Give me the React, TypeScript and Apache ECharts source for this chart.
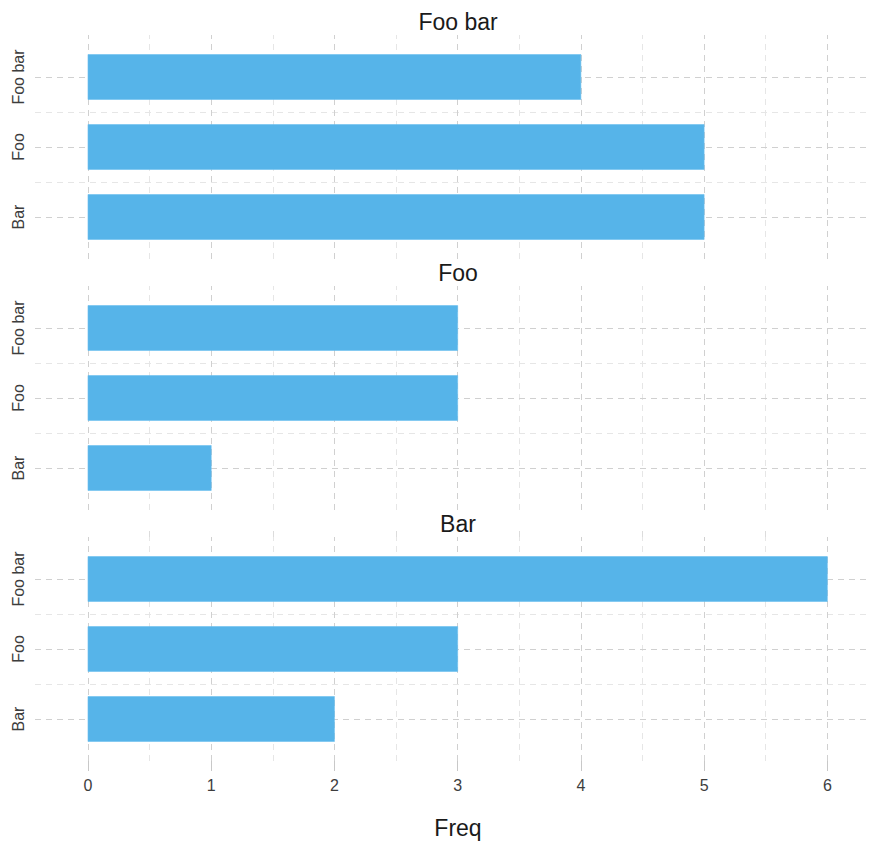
import React, { useEffect, useRef } from "react";
import * as echarts from "echarts";

// Data
const categories = ["Bar", "Foo", "Foo bar"]; // bottom -> top
const panelTitles = ["Foo bar", "Foo", "Bar"];
const fooBarFreq = [5, 5, 4];
const fooFreq = [1, 3, 3];
const barFreq = [2, 3, 6];
const panelValues = [fooBarFreq, fooFreq, barFreq];
const xMajorTicks = [0, 1, 2, 3, 4, 5, 6];
const xMinorTicks = [0.5, 1.5, 2.5, 3.5, 4.5, 5.5];
const yMajorTicks = [1, 2, 3];
const yMinorTicks = [1.5, 2.5];

const FONT = "Liberation Sans, Arial, Helvetica, sans-serif";
const BAR_COLOR = "#56B4E9";
const MAJOR = "#d0d0d0";
const MINOR = "#e6e6e6";
const DASH = [6, 5];
const BAR_WIDTH = 45 / 70;

const W = 871;
const H = 846;
const GRID_LEFT = 35;
const GRID_RIGHT = 3;
const GRID_H = 224;
const GRID_TOPS = [35, 286, 537];
const TITLE_Y = [22, 273, 524];
const X_MIN = -0.43;
const X_MAX = 6.33;

export default function App() {
  const ref = useRef<HTMLDivElement>(null);

  useEffect(() => {
    document.body.style.margin = "0";
    if (!ref.current) return;
    const chart = echarts.init(ref.current, null, { renderer: "svg" });

    const grids = GRID_TOPS.map((top) => ({
      left: GRID_LEFT,
      right: GRID_RIGHT,
      top,
      height: GRID_H,
      containLabel: false,
    }));

    const xAxes: any[] = GRID_TOPS.map((_, i) => ({
      type: "value",
      gridIndex: i,
      min: X_MIN,
      max: X_MAX,
      axisLine: { show: false },
      splitLine: { show: false },
      axisTick:
        i === 2
          ? {
              show: true,
              customValues: xMajorTicks,
              length: 10,
              lineStyle: { color: "#c8c8c8", width: 1 },
            }
          : { show: false },
      axisLabel:
        i === 2
          ? {
              show: true,
              customValues: xMajorTicks,
              margin: 16,
              fontSize: 16,
              color: "#3d3d3d",
              fontFamily: FONT,
            }
          : { show: false },
    }));
    // minor ticks below last panel
    xAxes.push({
      type: "value",
      gridIndex: 2,
      min: X_MIN,
      max: X_MAX,
      axisLine: { show: false },
      splitLine: { show: false },
      axisLabel: { show: false },
      axisTick: {
        show: true,
        customValues: xMinorTicks,
        length: 6,
        lineStyle: { color: "#dcdcdc", width: 1 },
      },
    });

    const yAxes = GRID_TOPS.map((_, i) => ({
      type: "value",
      gridIndex: i,
      min: 0.4,
      max: 3.6,
      axisLine: { show: false },
      axisTick: { show: false },
      splitLine: { show: false },
      axisLabel: {
        show: true,
        customValues: yMajorTicks,
        formatter: (v: number) => categories[Math.round(v) - 1] ?? "",
        rotate: 90,
        margin: 9,
        fontSize: 16,
        color: "#3d3d3d",
        fontFamily: FONT,
      },
    }));

    const gridLines = [
      ...xMinorTicks.map((v) => ({ xAxis: v, lineStyle: { color: MINOR, type: DASH, width: 1 } })),
      ...yMinorTicks.map((v) => ({ yAxis: v, lineStyle: { color: MINOR, type: DASH, width: 1 } })),
      ...xMajorTicks.map((v) => ({ xAxis: v, lineStyle: { color: MAJOR, type: DASH, width: 1 } })),
      ...yMajorTicks.map((v) => ({ yAxis: v, lineStyle: { color: MAJOR, type: DASH, width: 1 } })),
    ];

    const series = panelValues.map((vals, i) => ({
      type: "custom",
      xAxisIndex: i,
      yAxisIndex: i,
      z: 2,
      data: categories.map((_, j) => [vals[j], j + 1]),
      encode: { x: 0, y: 1 },
      renderItem: (params: any, api: any) => {
        const v = api.value(0);
        const y = api.value(1);
        const start = api.coord([0, y]);
        const end = api.coord([v, y]);
        const h = api.size([0, BAR_WIDTH])[1];
        return {
          type: "rect",
          shape: { x: start[0], y: start[1] - h / 2, width: end[0] - start[0], height: h },
          style: { fill: BAR_COLOR, stroke: "#6cbfee", lineWidth: 0.6 },
        };
      },
      markLine: {
        z: 1,
        silent: true,
        symbol: "none",
        label: { show: false },
        emphasis: { disabled: true },
        animation: false,
        data: gridLines,
      },
    }));

    const textStyle = (t: string) => ({
      text: t,
      align: "center",
      verticalAlign: "middle",
      fontSize: 23,
      fontFamily: FONT,
      fill: "#1a1a1a",
    });
    const graphics: any[] = panelTitles.map((t, i) => ({
      type: "text",
      x: 458,
      y: TITLE_Y[i],
      style: textStyle(t),
    }));
    graphics.push({ type: "text", x: 458, y: 828, style: textStyle("Freq") });

    chart.setOption({
      animation: false,
      backgroundColor: "#ffffff",
      grid: grids,
      xAxis: xAxes,
      yAxis: yAxes,
      series,
      graphic: graphics,
    });

    return () => chart.dispose();
  }, []);

  return <div ref={ref} style={{ width: W, height: H }} />;
}
